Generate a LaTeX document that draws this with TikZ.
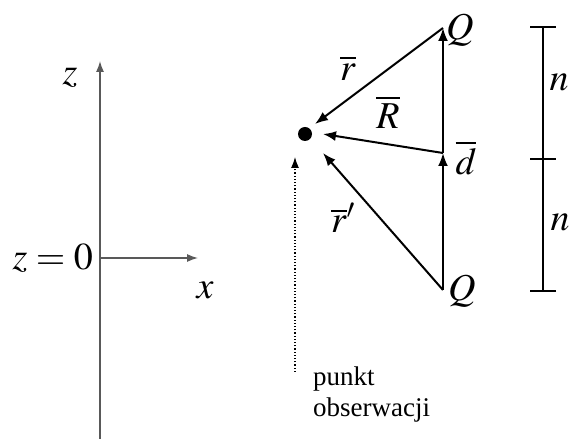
\documentclass[tikz,border=0pt]{standalone}
\usepackage{amsmath, amssymb}
\usepackage{mathptmx}
\usepackage{fontspec}
\setmainfont{Liberation Serif}
\usepackage{tikz}
\usetikzlibrary{arrows.meta, calc}
\usepackage{tkz-euclide}

\begin{document}
\begin{tikzpicture}[x=1pt,y=1pt,
    axis/.style={draw=black!65, line width=1.3pt},
    vec/.style={line width=2pt, -{Latex[length=13pt,width=10pt]}},
    bar/.style={line width=2pt},
    lbl/.style={font=\fontsize{38}{40}\selectfont, inner sep=0pt},
    txt/.style={font=\fontsize{27}{31}\selectfont, inner sep=0pt, align=left}]
            \useasboundingbox (0,0) rectangle (571,439);
            \clip (0,0) rectangle (571,439);
            % axes
            \tkzDefPoint(100,0){Zb}
            \tkzDefPoint(100,378){Zt}
            \tkzDefPoint(100,181){O}
            \tkzDefPoint(198,181){X}
            \draw[axis, -{Latex[length=11pt,width=8pt]}] (Zb) -- (Zt);
            \draw[axis, -{Latex[length=11pt,width=8pt]}] (O) -- (X);
            \node[lbl] (lz) at (70,361) {$z$};
            \node[lbl, anchor=east] (lz0) at (93,181) {$z=0$};
            \node[lbl] (lx) at (205,149) {$x$};
            % charges and observation point
            \tkzDefPoint(443,411){Qt}
            \tkzDefPoint(443,286){D}
            \tkzDefPoint(443,149){Qb}
            \tkzDefPoint(305,305){P}
            \tkzDefPoint(315,315){Pr}
            \tkzDefPoint(323,305){PR}
            \tkzDefPoint(323,286){Pq}
            \tkzDefPoint(295,67){S}
            \tkzDefPoint(295,282){St}
            \fill (P) circle (7);
            \draw[vec] (Qb) -- (D);
            \draw[vec] (D) -- (Qt);
            \draw[vec] (Qt) -- (Pr);
            \draw[vec] (D) -- (PR);
            \draw[vec] (Qb) -- (Pq);
            \draw[dotted, line width=1.2pt, -{Latex[length=11pt,width=8pt]}] (S) -- (St);
            \node[lbl, anchor=west] (lQt) at (446,409) {$Q$};
            \node[lbl, anchor=west] (lQb) at (448,148) {$Q$};
            \node[lbl] (ld) at (466,281) {$\overline{d}$};
            \node[lbl] (lr) at (348,371) {$\overline{r}$};
            \node[lbl] (lR) at (388,327) {$\overline{R}$};
            \node[lbl] (lrp) at (343,221) {$\overline{r}'$};
            \node[txt, anchor=north west] (lobs) at (313,72) {punkt\\obserwacji};
            % scale bar
            \tkzDefPoint(543,413){Bt}
            \tkzDefPoint(543,281){Bm}
            \tkzDefPoint(543,147){Bb}
            \draw[bar, {Bar[width=26pt]}-] (Bt) -- (Bm);
            \draw[bar, {Bar[width=26pt]}-{Bar[width=26pt]}] (Bm) -- (Bb);
            \node[lbl] (ln1) at (559,357) {$n$};
            \node[lbl] (ln2) at (560,217) {$n$};
        \end{tikzpicture}
\end{document}
